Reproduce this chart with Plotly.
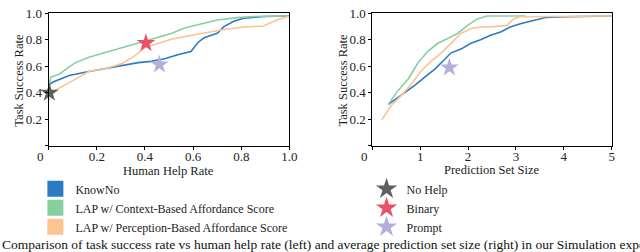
import plotly.graph_objects as go

# ---- data: left panel (task success vs human help rate)
help_knowno_x = [0.0, 0.003, 0.016, 0.085, 0.167, 0.277, 0.372, 0.425, 0.482, 0.536, 0.591, 0.62, 0.646, 0.70, 0.728, 0.769, 0.81, 0.892, 1.0]
help_knowno_y = [0.44, 0.46, 0.48, 0.53, 0.56, 0.596, 0.628, 0.637, 0.657, 0.687, 0.711, 0.78, 0.816, 0.85, 0.90, 0.94, 0.963, 0.976, 0.98]
help_ctx_x = [0.0, 0.003, 0.01, 0.044, 0.085, 0.112, 0.167, 0.236, 0.304, 0.372, 0.441, 0.509, 0.564, 0.618, 0.70, 0.783, 0.851, 1.0]
help_ctx_y = [0.47, 0.47, 0.52, 0.54, 0.596, 0.628, 0.669, 0.706, 0.743, 0.78, 0.816, 0.848, 0.89, 0.914, 0.95, 0.968, 0.976, 0.98]
help_per_x = [0.0, 0.003, 0.016, 0.044, 0.098, 0.167, 0.236, 0.304, 0.359, 0.40, 0.454, 0.509, 0.577, 0.646, 0.728, 0.81, 0.892, 0.947, 0.988, 1.0]
help_per_y = [0.35, 0.35, 0.407, 0.437, 0.49, 0.56, 0.583, 0.62, 0.68, 0.743, 0.775, 0.804, 0.829, 0.853, 0.878, 0.897, 0.905, 0.95, 0.976, 0.978]

# ---- data: right panel (task success vs prediction set size)
size_knowno_x = [0.337, 0.61, 0.887, 1.09, 1.30, 1.51, 1.64, 1.85, 2.06, 2.26, 2.47, 2.68, 2.88, 3.09, 3.36, 3.64, 4.05, 5.0]
size_knowno_y = [0.312, 0.38, 0.455, 0.516, 0.577, 0.651, 0.70, 0.73, 0.774, 0.80, 0.835, 0.86, 0.897, 0.921, 0.946, 0.97, 0.975, 0.98]
size_ctx_x = [0.337, 0.54, 0.75, 0.956, 1.16, 1.37, 1.575, 1.78, 1.99, 2.19, 2.40, 3.2]
size_ctx_y = [0.312, 0.418, 0.504, 0.627, 0.713, 0.774, 0.81, 0.848, 0.909, 0.958, 0.98, 0.98]
size_per_x = [0.2, 0.406, 0.61, 0.82, 1.02, 1.23, 1.44, 1.64, 1.85, 2.06, 2.26, 2.54, 2.81, 2.95, 3.09, 5.0]
size_per_y = [0.197, 0.307, 0.38, 0.467, 0.565, 0.639, 0.70, 0.774, 0.848, 0.885, 0.897, 0.90, 0.909, 0.958, 0.975, 0.98]

# baselines (stars)
nohelp_xy = (0.003, 0.40)
binary_xy = (0.404, 0.775)
prompt_help_xy = (0.46, 0.613)
prompt_size_xy = (1.61, 0.59)

series_names = ["KnowNo", "LAP w/ Context-Based Affordance Score", "LAP w/ Perception-Based Affordance Score"]
series_colors = ["#2b7bc3", "#88cfa0", "#fdc393"]
star_names = ["No Help", "Binary", "Prompt"]
star_colors = ["#5f5f5f", "#ea5068", "#b3afda"]

xticks_left = [0, 0.2, 0.4, 0.6, 0.8, 1.0]
xticktext_left = ["", "0.2", "0.4", "0.6", "0.8", "1.0"]
xticks_right = [0, 1, 2, 3, 4, 5]
xticktext_right = ["", "1", "2", "3", "4", "5"]
yticks = [0, 0.2, 0.4, 0.6, 0.8, 1.0]
yticktext = ["", "0.2", "0.4", "0.6", "0.8", "1.0"]

FONT = "'Liberation Serif', 'Times New Roman', Times, serif"
W, H = 640, 252
fig = go.Figure()

left = [(help_knowno_x, help_knowno_y), (help_ctx_x, help_ctx_y), (help_per_x, help_per_y)]
right = [(size_knowno_x, size_knowno_y), (size_ctx_x, size_ctx_y), (size_per_x, size_per_y)]
for (xs, ys), c in zip(left, series_colors):
    fig.add_trace(go.Scatter(x=xs, y=ys, mode="lines", line=dict(color=c, width=1.6),
                             xaxis="x", yaxis="y", showlegend=False, cliponaxis=False))
for (xs, ys), c in zip(right, series_colors):
    fig.add_trace(go.Scatter(x=xs, y=ys, mode="lines", line=dict(color=c, width=1.6),
                             xaxis="x2", yaxis="y2", showlegend=False, cliponaxis=False))

stars_left = [nohelp_xy, binary_xy, prompt_help_xy]
for (sx, sy), c in zip(stars_left, star_colors):
    fig.add_trace(go.Scatter(x=[sx], y=[sy], mode="markers", xaxis="x", yaxis="y",
                             marker=dict(symbol="star", size=14, color=c, line=dict(width=0)),
                             showlegend=False, cliponaxis=False))
fig.add_trace(go.Scatter(x=[prompt_size_xy[0]], y=[prompt_size_xy[1]], mode="markers", xaxis="x2", yaxis="y2",
                         marker=dict(symbol="star", size=14, color=star_colors[2], line=dict(width=0)),
                         showlegend=False, cliponaxis=False))

# legend entries
for n, c in zip(series_names, series_colors):
    fig.add_trace(go.Scatter(x=[None], y=[None], mode="markers", name=n, legend="legend",
                             marker=dict(symbol="square", size=16, color=c, line=dict(width=0))))
for n, c in zip(star_names, star_colors):
    fig.add_trace(go.Scatter(x=[None], y=[None], mode="markers", name=n, legend="legend2",
                             marker=dict(symbol="star", size=16, color=c, line=dict(width=0))))

axis_common = dict(showline=True, linecolor="black", linewidth=1, mirror=True, ticks="outside",
                   ticklen=3, tickcolor="black", showgrid=False, zeroline=False, ticklabeloverflow="allow",
                   tickfont=dict(family=FONT, size=13, color="#222"))
ydom = [0.434, 0.974]
fig.update_layout(
    width=W, height=H, margin=dict(l=0, r=0, t=0, b=0),
    paper_bgcolor="white", plot_bgcolor="white",
    font=dict(family=FONT, size=13, color="#222"),
    xaxis=dict(domain=[0.077, 0.458], range=[0, 1.0], tickvals=xticks_left, ticktext=xticktext_left,
               anchor="y", ticklabelstandoff=-4, **axis_common),
    yaxis=dict(domain=ydom, range=[0, 1.0], tickvals=yticks, ticktext=yticktext, anchor="x", **axis_common),
    xaxis2=dict(domain=[0.589, 0.968], range=[0, 5], tickvals=xticks_right, ticktext=xticktext_right,
                anchor="y2", ticklabelstandoff=-4, **axis_common),
    yaxis2=dict(domain=ydom, range=[0, 1.0], tickvals=yticks, ticktext=yticktext, anchor="x2", **axis_common),
    legend=dict(x=0.056, y=0.317, xanchor="left", yanchor="top", bgcolor="rgba(0,0,0,0)",
                font=dict(family=FONT, size=12), itemwidth=30, tracegroupgap=0),
    legend2=dict(x=0.58, y=0.317, xanchor="left", yanchor="top", bgcolor="rgba(0,0,0,0)",
                 font=dict(family=FONT, size=12), itemwidth=30, tracegroupgap=0),
)

# axis titles
for text, px, py, ang in [("Task Success Rate", 19, 75, -90), ("Task Success Rate", 347, 75, -90),
                          ("Human Help Rate", 171, 169, 0), ("Prediction Set Size", 498, 168, 0)]:
    fig.add_annotation(text=text, xref="paper", yref="paper", x=px / W, y=1 - py / H, textangle=ang,
                       xanchor="center", yanchor="middle", showarrow=False,
                       font=dict(family=FONT, size=12.5, color="#222"))

fig.add_annotation(text="0", xref="x", yref="paper", x=0, y=1 - 154 / H, xshift=-8,
                   showarrow=False, font=dict(family=FONT, size=13, color="#222"))
fig.add_annotation(text="0", xref="x2", yref="paper", x=0, y=1 - 154 / H, xshift=-8,
                   showarrow=False, font=dict(family=FONT, size=13, color="#222"))
fig.add_annotation(text="Comparison of task success rate vs human help rate (left) and average prediction set size (right) in our Simulation experiments.",
                   xref="paper", yref="paper", x=0.0, y=1 - 244 / H, xanchor="left", yanchor="middle",
                   showarrow=False, font=dict(family=FONT, size=13.5, color="#111"))

fig.write_html("out.html", config={"displayModeBar": False},
               post_script="document.body.style.margin='0';document.body.style.padding='0';")
